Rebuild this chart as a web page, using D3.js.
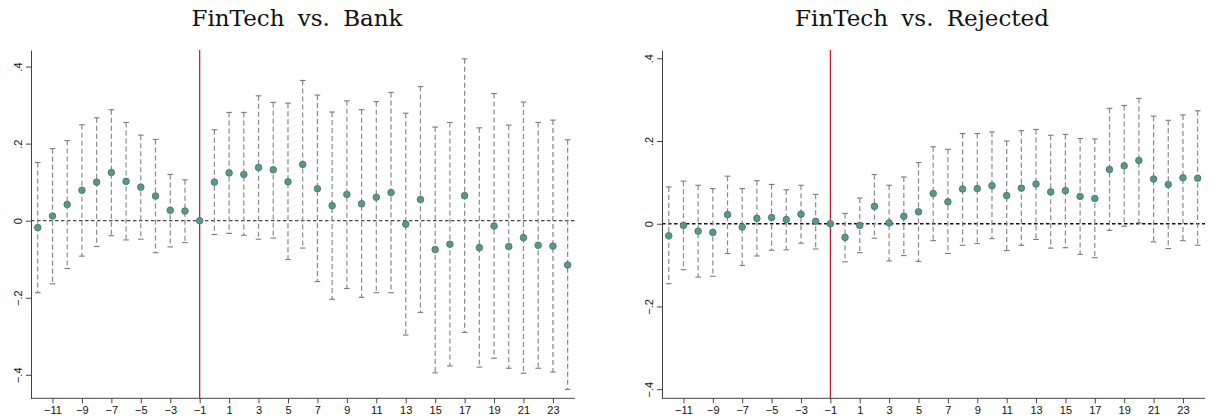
<!DOCTYPE html>
<html>
<head>
<meta charset="utf-8">
<script src="https://cdn.jsdelivr.net/npm/d3@7"></script>
<style>
  body { margin: 0; background: #fff; }
  svg { display: block; }
  .tick text { font-family: "Liberation Sans", Arial, sans-serif; font-size: 11px; fill: #111; }
  .title { font-family: "DejaVu Serif", "Liberation Serif", serif; font-size: 23px; word-spacing: 6px; fill: #111; }
</style>
</head>
<body>
<div id="chart"></div>
<script>
// 1: DATA
const periods = d3.range(-12, 25);
const xTicks = d3.range(-11, 24, 2);
const yTicks = [-0.4, -0.2, 0, 0.2, 0.4];

const bankCoef = [-0.018, 0.012, 0.042, 0.079, 0.100, 0.125, 0.102, 0.087, 0.064, 0.027, 0.025, 0,
  0.100, 0.124, 0.120, 0.138, 0.132, 0.101, 0.146, 0.083, 0.039, 0.068, 0.044, 0.061, 0.073,
  -0.009, 0.055, -0.075, -0.061, 0.065, -0.070, -0.014, -0.067, -0.044, -0.064, -0.066, -0.115];
const bankLo = [-0.187, -0.164, -0.124, -0.092, -0.067, -0.039, -0.050, -0.048, -0.083, -0.068, -0.057, null,
  -0.036, -0.033, -0.038, -0.048, -0.045, -0.101, -0.071, -0.158, -0.204, -0.176, -0.199, -0.187, -0.187,
  -0.297, -0.238, -0.395, -0.377, -0.290, -0.380, -0.357, -0.383, -0.396, -0.383, -0.393, -0.438];
const bankHi = [0.151, 0.187, 0.208, 0.249, 0.267, 0.288, 0.255, 0.222, 0.211, 0.120, 0.106, null,
  0.236, 0.281, 0.281, 0.324, 0.307, 0.305, 0.364, 0.326, 0.282, 0.311, 0.288, 0.309, 0.333,
  0.279, 0.348, 0.243, 0.255, 0.420, 0.241, 0.330, 0.248, 0.308, 0.255, 0.261, 0.210];

const rejCoef = [-0.029, -0.004, -0.018, -0.021, 0.022, -0.008, 0.013, 0.015, 0.010, 0.023, 0.006, 0,
  -0.033, -0.004, 0.042, 0.002, 0.018, 0.029, 0.073, 0.053, 0.084, 0.085, 0.092, 0.068, 0.086,
  0.096, 0.077, 0.080, 0.066, 0.061, 0.131, 0.140, 0.153, 0.108, 0.095, 0.111, 0.110];
const rejLo = [-0.145, -0.111, -0.129, -0.127, -0.072, -0.101, -0.078, -0.064, -0.063, -0.047, -0.061, null,
  -0.092, -0.070, -0.035, -0.090, -0.077, -0.091, -0.041, -0.072, -0.052, -0.048, -0.036, -0.065, -0.052,
  -0.038, -0.059, -0.058, -0.074, -0.082, -0.016, -0.006, 0.002, -0.044, -0.060, -0.041, -0.052];
const rejHi = [0.089, 0.103, 0.093, 0.085, 0.115, 0.085, 0.104, 0.095, 0.082, 0.093, 0.071, null,
  0.025, 0.062, 0.119, 0.093, 0.113, 0.148, 0.186, 0.180, 0.218, 0.218, 0.222, 0.200, 0.225,
  0.228, 0.214, 0.216, 0.206, 0.205, 0.279, 0.286, 0.303, 0.260, 0.250, 0.263, 0.273];

// 2: SVG
const svg = d3.select("#chart").append("svg")
    .attr("width", 1211)
    .attr("height", 420);

// 3: PANEL
function drawPanel(p) {
    const data = periods.map((t, i) => ({ t, coef: p.coef[i], lo: p.lo[i], hi: p.hi[i] }));

    const x = d3.scaleLinear().domain([-12.46, 24.5]).range([p.left, p.right]);
    const y = d3.scaleLinear().domain(p.yDomain).range([398.3, 50]);

    const g = svg.append("g");

    // zero reference line
    g.append("line")
        .attr("x1", p.left).attr("x2", p.right)
        .attr("y1", y(0)).attr("y2", y(0))
        .attr("stroke", p.zeroColor)
        .attr("stroke-width", 1.3)
        .attr("stroke-dasharray", "3.5,2.5");

    // event line
    g.append("line")
        .attr("x1", x(-1)).attr("x2", x(-1))
        .attr("y1", 50).attr("y2", 398.3)
        .attr("stroke", "#c4122f")
        .attr("stroke-width", 1.2);

    const ci = data.filter(d => d.lo !== null);

    g.selectAll("line.ci")
        .data(ci)
        .enter()
        .append("line")
        .attr("class", "ci")
        .attr("x1", d => x(d.t)).attr("x2", d => x(d.t))
        .attr("y1", d => y(d.hi)).attr("y2", d => y(d.lo))
        .attr("stroke", "#8a8a8a")
        .attr("stroke-width", 1.2)
        .attr("stroke-dasharray", "5,3");

    ["hi", "lo"].forEach(k => {
        g.selectAll("line.cap-" + k)
            .data(ci)
            .enter()
            .append("line")
            .attr("class", "cap-" + k)
            .attr("x1", d => x(d.t) - 2.8).attr("x2", d => x(d.t) + 2.8)
            .attr("y1", d => y(d[k])).attr("y2", d => y(d[k]))
            .attr("stroke", "#7a7a7a")
            .attr("stroke-width", 1.1);
    });

    g.selectAll("circle.pt")
        .data(data)
        .enter()
        .append("circle")
        .attr("class", "pt")
        .attr("cx", d => x(d.t))
        .attr("cy", d => y(d.coef))
        .attr("r", 3.3)
        .attr("fill", "#5b968d")
        .attr("stroke", "#3f7169")
        .attr("stroke-width", 0.8);

    // axes
    const xAxis = g.append("g")
        .attr("transform", `translate(0,398.3)`)
        .call(d3.axisBottom(x).tickValues(xTicks).tickSize(5).tickPadding(3).tickSizeOuter(0)
            .tickFormat(d3.format("d")));
    xAxis.selectAll("path, line").attr("stroke", "#444");
    xAxis.select(".domain").attr("d", `M${p.left},0H${p.right}`);

    const yAxis = g.append("g")
        .attr("transform", `translate(${p.left},0)`)
        .call(d3.axisLeft(y).tickValues(yTicks).tickSize(5).tickSizeOuter(0)
            .tickFormat(d => d === 0 ? "0" : d3.format(".1f")(d).replace("0.", ".")));
    yAxis.selectAll("path, line").attr("stroke", "#444");
    yAxis.selectAll(".tick text")
        .attr("x", null).attr("dy", null)
        .attr("text-anchor", "middle")
        .attr("transform", "translate(-9,0) rotate(-90)");

    svg.append("text")
        .attr("class", "title")
        .attr("x", p.titleX)
        .attr("y", 26)
        .attr("text-anchor", "middle")
        .text(p.title);
}

drawPanel({ title: "FinTech vs. Bank", titleX: 297, left: 31, right: 575,
    yDomain: [-0.461, 0.443], coef: bankCoef, lo: bankLo, hi: bankHi, zeroColor: "#4a4a4a" });
drawPanel({ title: "FinTech vs. Rejected", titleX: 922, left: 662, right: 1205,
    yDomain: [-0.422, 0.420], coef: rejCoef, lo: rejLo, hi: rejHi, zeroColor: "#111" });
</script>
</body>
</html>
